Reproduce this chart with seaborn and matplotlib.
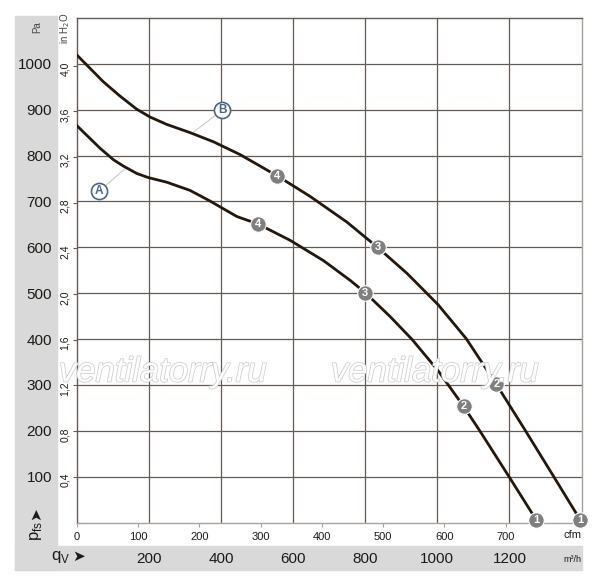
import numpy as np
import pandas as pd
import seaborn as sns
import matplotlib.pyplot as plt
import matplotlib.patheffects as pe
from matplotlib.patches import Rectangle

# fan curves: flow in m3/h, static pressure in Pa
flow_a = [0, 64, 101, 129, 166, 198, 249, 314, 369, 402, 444, 502, 592, 684, 758, 800, 869, 930, 1002, 1073, 1116, 1198, 1275]
pres_a = [865, 816, 791, 777, 761, 752, 742, 724, 701, 686, 667, 651, 615, 571, 528, 501, 449, 399, 331, 253, 202, 101, 5]
flow_b = [0, 73, 119, 166, 203, 249, 314, 379, 453, 555, 592, 647, 749, 834, 916, 1002, 1080, 1164, 1243, 1323, 1397]
pres_b = [1019, 961, 930, 901, 884, 868, 850, 830, 802, 756, 738, 711, 655, 600, 543, 475, 401, 301, 202, 100, 5]

# numbered operating points on each curve
pt_flow_a = [502, 800, 1073, 1275]
pt_pres_a = [651, 501, 253, 5]
pt_flow_b = [555, 834, 1164, 1397]
pt_pres_b = [756, 600, 301, 5]
pt_labels = ['4', '3', '2', '1']

m3h_ticks = [200, 400, 600, 800, 1000, 1200]
pa_ticks = [100, 200, 300, 400, 500, 600, 700, 800, 900, 1000]
inh2o_ticks = [0.4, 0.8, 1.2, 1.6, 2.0, 2.4, 2.8, 3.2, 3.6, 4.0]
cfm_ticks = [0, 100, 200, 300, 400, 500, 600, 700]

band = '#d9d9d9'
grid_c = '#645c54'
curve_c = '#24170c'
dot_c = '#7f7f7f'
ab_c = '#4a6787'
txt_c = '#1e1a17'

plt.rcParams['font.family'] = ['Liberation Sans', 'DejaVu Sans']

df = pd.concat([
    pd.DataFrame({'flow': flow_a, 'pressure': pres_a, 'curve': 'A'}),
    pd.DataFrame({'flow': flow_b, 'pressure': pres_b, 'curve': 'B'}),
])
pts = pd.concat([
    pd.DataFrame({'flow': pt_flow_a, 'pressure': pt_pres_a, 'label': pt_labels}),
    pd.DataFrame({'flow': pt_flow_b, 'pressure': pt_pres_b, 'label': pt_labels}),
])

W, H = 600, 588
fig = plt.figure(figsize=(6, 5.88), dpi=100)

def fx(px):
    return px / W

def fy(py):
    return 1 - py / H

# grey frame bands (left and bottom)
fig.add_artist(Rectangle((fx(15), fy(570)), 42 / W, 554 / H, transform=fig.transFigure,
                         color=band, zorder=0))
fig.add_artist(Rectangle((fx(15), fy(570)), 567 / W, 24 / H, transform=fig.transFigure,
                         color=band, zorder=0))

ax = fig.add_axes([fx(77), fy(522.5), 504.5 / W, 504.5 / H])
ax.set_xlim(0, 1400)
ax.set_ylim(0, 1100)

sns.lineplot(data=df, x='flow', y='pressure', units='curve', estimator=None, sort=False,
             color=curve_c, lw=2, ax=ax, zorder=3, solid_joinstyle='round')
sns.scatterplot(data=pts, x='flow', y='pressure', s=125, color=dot_c, edgecolor='white',
                linewidth=0.8, ax=ax, zorder=4, clip_on=False, legend=False)
for _, r in pts.iterrows():
    ax.text(r['flow'], r['pressure'], r['label'], ha='center', va='center', color='white',
            fontsize=8, fontweight='bold', zorder=5, clip_on=False)

# curve labels A / B with leader lines
for lx, ly, cx, cy, t in [(61, 722, 133, 771, 'A'), (403, 899, 323, 851, 'B')]:
    ax.plot([lx, cx], [ly, cy], color='#c4c4c4', lw=0.7, zorder=2)
    ax.scatter([lx], [ly], s=135, facecolor='white', edgecolor=ab_c, linewidth=1.2, zorder=4)
    ax.text(lx, ly, t, ha='center', va='center', color=ab_c, fontsize=8.5,
            fontweight='bold', zorder=5)

ax.set_xticks(m3h_ticks)
ax.set_xticklabels([str(v) for v in m3h_ticks])
ax.set_yticks(pa_ticks)
ax.set_yticklabels([str(v) for v in pa_ticks])
ax.tick_params(axis='x', length=0, pad=21, labelsize=11, labelcolor=txt_c)
ax.tick_params(axis='y', length=0, pad=18, labelsize=11, labelcolor=txt_c)
ax.grid(True, color=grid_c, lw=0.9, zorder=1)
ax.set_axisbelow(True)
ax.set_xlabel('')
ax.set_ylabel('')
ax.spines['left'].set_color(grid_c)
ax.spines['top'].set_color(grid_c)
ax.spines['right'].set_color('#a8a39c')
ax.spines['bottom'].set_color('#a8a39c')
for s in ax.spines.values():
    s.set_linewidth(1)

sec_y = ax.secondary_yaxis('left', functions=(lambda p: p / 249.09, lambda h: h * 249.09))
sec_y.set_yticks(inh2o_ticks)
sec_y.set_yticklabels([f'{v:.1f}'.replace('.', ',') for v in inh2o_ticks])
sec_y.tick_params(length=3, pad=2, labelsize=7.5, labelrotation=90, color=grid_c, labelcolor=txt_c)
sec_y.spines['left'].set_visible(False)

sec_x = ax.secondary_xaxis('bottom', functions=(lambda q: q / 1.699, lambda c: c * 1.699))
sec_x.set_xticks(cfm_ticks)
sec_x.set_xticklabels([str(v) for v in cfm_ticks])
sec_x.tick_params(length=3, pad=4, labelsize=8, color='#a8a39c', labelcolor=txt_c)
sec_x.spines['bottom'].set_visible(False)

# unit texts
fig.text(fx(573), fy(535), 'cfm', ha='center', va='center', fontsize=8, color=txt_c)
fig.text(fx(572), fy(560), 'm³/h', ha='center', va='center', fontsize=6.5, color=txt_c)
fig.text(fx(37), fy(27), 'Pa', ha='center', va='center', fontsize=7, rotation=90, color='#444444')
fig.text(fx(65), fy(28), 'in H$_2$O', ha='center', va='center', fontsize=7, rotation=90, color='#444444')
fig.text(fx(36), fy(531), r'p$_\mathregular{fs}$', ha='center', va='center', fontsize=12,
         rotation=90, color=txt_c)
fig.text(fx(36), fy(514), '➤', ha='center', va='center', fontsize=11, rotation=90,
         color=txt_c, family='DejaVu Sans')
fig.text(fx(61), fy(557), r'q$_\mathregular{V}$', ha='center', va='center', fontsize=12,
         color=txt_c)
fig.text(fx(79), fy(556), '➤', ha='center', va='center', fontsize=11, color=txt_c,
         family='DejaVu Sans')

# watermark
for cx in (163, 435):
    fig.text(fx(cx), fy(372), 'ventilatorry.ru', ha='center', va='center', fontsize=25,
             style='italic', color='white', zorder=10,
             path_effects=[pe.withStroke(linewidth=1.1, foreground='#cdcdcd')])

fig.savefig('out.png', dpi=100)
